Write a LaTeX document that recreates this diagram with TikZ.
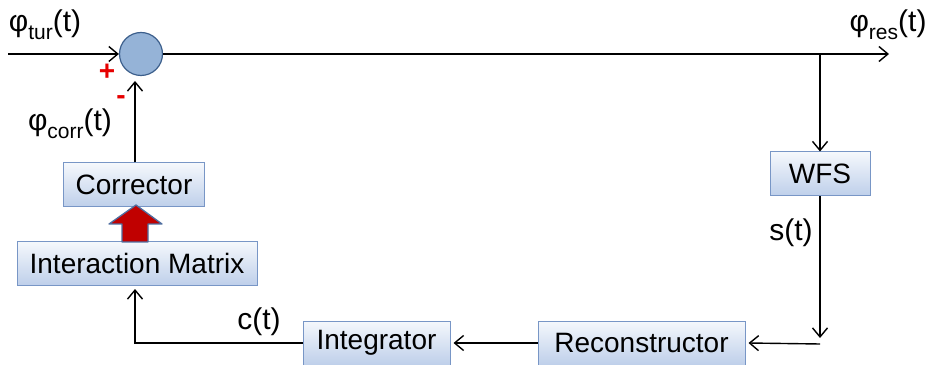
\documentclass[tikz,border=0pt]{standalone}
\usepackage{fontspec}
\setmainfont{Liberation Sans}
\usetikzlibrary{arrows.meta}
\definecolor{boxtop}{RGB}{245,248,252}
\definecolor{boxbot}{RGB}{190,207,234}
\definecolor{boxline}{RGB}{120,150,198}
\definecolor{sumfill}{RGB}{149,179,215}
\definecolor{sumline}{RGB}{60,95,140}
\definecolor{redarrow}{RGB}{192,0,0}
\definecolor{redarrowline}{RGB}{79,110,160}
\definecolor{signred}{RGB}{230,0,0}
\newcommand{\mysub}[1]{\raisebox{-0.28em}{\fontsize{21}{21}\selectfont #1}}
\begin{document}
\begin{tikzpicture}[x=1pt,y=1pt,
  blk/.style={draw=boxline, line width=1pt, top color=boxtop, bottom color=boxbot,
    minimum height=44pt, inner sep=0pt, font=\fontsize{28}{30}\selectfont},
  lbl/.style={inner sep=0pt, font=\fontsize{30}{32}\selectfont},
  sign/.style={inner sep=0pt, text=signred, font=\bfseries\fontsize{28}{30}\selectfont},
  arr/.style={-{Straight Barb[length=9pt,width=15pt,line width=1.4pt]}, line width=1.4pt}]
% y coordinates written as 364 - (pixel row)
\useasboundingbox (0,0) rectangle (933,364);
% blocks
\node[circle, draw=sumline, fill=sumfill, line width=1.2pt, minimum size=43pt, inner sep=0pt] (sum) at (141,310) {};
\node[blk, minimum width=141pt] (corr) at (134,179) {Corrector};
\node[blk, minimum width=240pt] (im) at (137,100.5) {Interaction Matrix};
\node[blk, minimum width=147pt] (integ) at (376.5,21) {Integrator};
\node[blk, minimum width=207pt] (recon) at (641.5,21) {Reconstructor};
\node[blk, minimum width=100pt] (wfs) at (820,190) {WFS};
% coordinates
\coordinate (inL) at (8,310);
\coordinate (outR) at (889,310);
\coordinate (br) at (820,310);
\coordinate (wfsend) at (820,26);
\coordinate (rin) at (820,20);
\coordinate (bl) at (135,21);
\coordinate (sumin) at (135,283);
% connectors
\draw[arr] (inL) -- (sum.west);
\draw[arr] (sum.east) -- (outR);
\draw[arr] (br) -- (wfs.north);
\draw[arr] (wfs.south) -- (wfsend);
\draw[arr] (rin) -- ([xshift=3pt]recon.east);
\draw[arr] (recon.west) -- ([xshift=3pt]integ.east);
\draw[arr] (integ.west) -- (bl) -- ([yshift=-3pt]im.south -| bl);
\draw[arr] (corr.north -| sumin) -- (sumin);
% red block arrow
\draw[draw=redarrowline, fill=redarrow, line width=1.3pt, line join=round]
  (136,159) -- (162,140) -- (148,140) -- (148,122) -- (122,122) -- (122,140) -- (109,140) -- cycle;
% labels
\node[lbl] (ltur) at (45,339) {φ\mysub{tur}(t)};
\node[lbl] (lres) at (888,339) {φ\mysub{res}(t)};
\node[lbl] (lcorr) at (70,240) {φ\mysub{corr}(t)};
\node[sign] (plus) at (107,292) {+};
\node[sign] (minus) at (121,264) {-};
\node[lbl] (ls) at (791,131) {s(t)};
\node[lbl] (lc) at (259,42) {c(t)};
\end{tikzpicture}
\end{document}
